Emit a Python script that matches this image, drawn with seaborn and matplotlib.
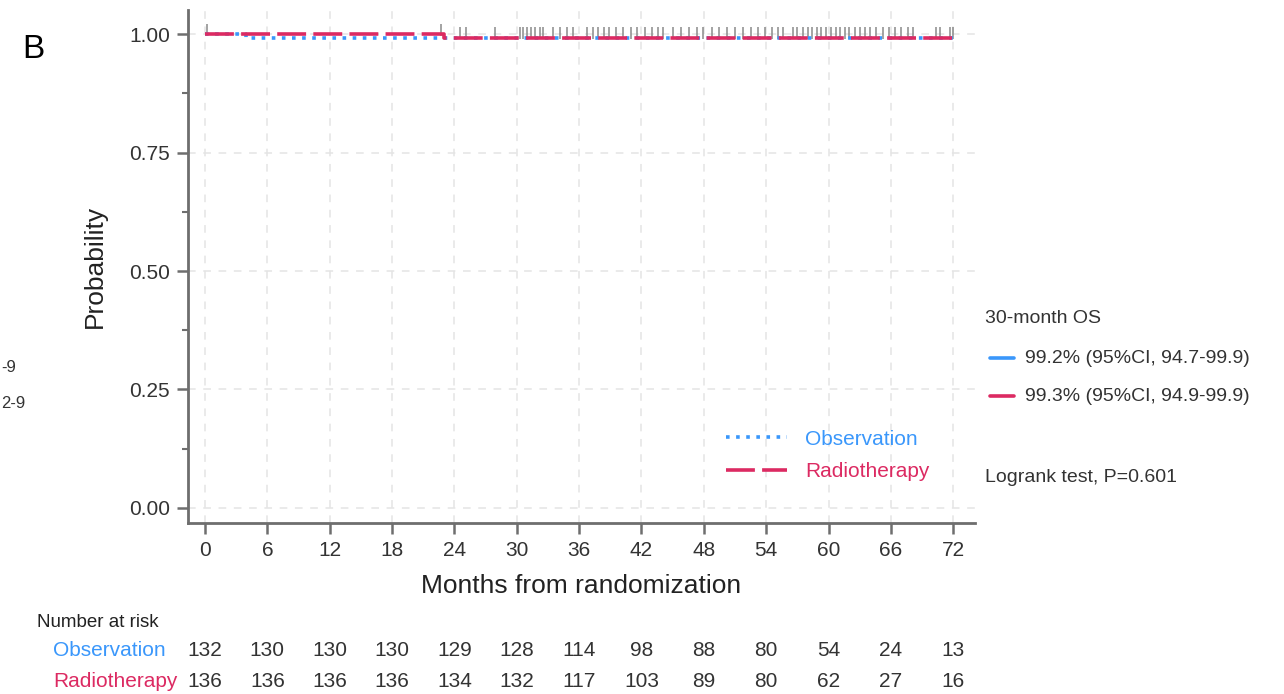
import pandas as pd
import matplotlib.pyplot as plt
import seaborn as sns
import numpy as np
from matplotlib.lines import Line2D
from matplotlib.ticker import MultipleLocator

sns.set_theme(style='white')
plt.rcParams['font.family'] = ['Liberation Sans', 'DejaVu Sans']

# Kaplan-Meier step data (months, survival probability)
obs_time = [0, 3.9, 72]
obs_surv = [1.0, 0.9924, 0.9924]
rt_time = [0, 23.0, 72]
rt_surv = [1.0, 0.9926, 0.9926]

# censoring times
obs_cens = [24.5, 27.9, 30.6, 31.4, 32.2, 33.5, 34.8, 36.8, 37.8, 38.9, 40.2,
            41.6, 43.0, 44.1, 45.8, 47.3, 48.8, 50.2, 51.8, 53.2, 54.6, 55.6,
            57.0, 58.0, 58.9, 59.8, 60.7, 61.6, 62.5, 63.5, 64.6, 65.8, 67.0,
            68.1, 70.7, 72.0]
rt_cens = [0.2, 22.7, 25.1, 30.3, 31.0, 31.8, 32.5, 34.2, 35.4, 37.3, 38.4,
           39.5, 41.0, 42.3, 43.6, 45.0, 46.6, 47.9, 49.5, 51.0, 52.5, 53.9,
           55.1, 56.6, 57.5, 58.4, 59.3, 60.2, 61.1, 62.0, 63.0, 64.0, 65.2,
           66.4, 67.6, 70.3, 71.7]

risk_times = [0, 6, 12, 18, 24, 30, 36, 42, 48, 54, 60, 66, 72]
obs_risk = [132, 130, 130, 130, 129, 128, 114, 98, 88, 80, 54, 24, 13]
rt_risk = [136, 136, 136, 136, 134, 132, 117, 103, 89, 80, 62, 27, 16]

groups = ['Observation', 'Radiotherapy']
colors = {'Observation': '#3a97fb', 'Radiotherapy': '#dc2a62'}
os_labels = ['99.2% (95%CI, 94.7-99.9)', '99.3% (95%CI, 94.9-99.9)']

km = pd.concat([
    pd.DataFrame({'time': obs_time, 'surv': obs_surv, 'group': 'Observation'}),
    pd.DataFrame({'time': rt_time, 'surv': rt_surv, 'group': 'Radiotherapy'}),
], ignore_index=True)


def surv_at(times, survs, t):
    idx = np.searchsorted(times, t, side='right') - 1
    return np.array(survs)[idx]


cens = pd.concat([
    pd.DataFrame({'time': obs_cens, 'surv': surv_at(obs_time, obs_surv, obs_cens)}),
    pd.DataFrame({'time': rt_cens, 'surv': surv_at(rt_time, rt_surv, rt_cens)}),
], ignore_index=True)
cens['surv'] = cens['surv'] + 0.01

fig = plt.figure(figsize=(12.84, 6.94), dpi=100)
ax = fig.add_axes([0.1464, 0.2464, 0.613, 0.739])

sns.lineplot(data=km, x='time', y='surv', hue='group', style='group',
             palette=colors, dashes={'Observation': (1, 1.8), 'Radiotherapy': (8, 2)},
             drawstyle='steps-post', linewidth=2.6, ax=ax, legend=False)
sns.scatterplot(data=cens, x='time', y='surv', marker='|', s=80, color='#8a8a8a',
                linewidth=1.1, ax=ax, legend=False, zorder=1)

ax.set_xlim(-1.64, 74.1)
ax.set_ylim(-0.032, 1.051)
ax.set_xticks(risk_times)
ax.set_yticks([0, 0.25, 0.5, 0.75, 1.0])
ax.set_yticklabels(['0.00', '0.25', '0.50', '0.75', '1.00'])
ax.yaxis.set_minor_locator(MultipleLocator(0.125))
ax.grid(True, which='major', color='#e4e4e4', linestyle=(0, (5, 5)), linewidth=1.1)
ax.set_axisbelow(True)

for s in ['top', 'right']:
    ax.spines[s].set_visible(False)
for s in ['left', 'bottom']:
    ax.spines[s].set_color('#6e6e6e')
    ax.spines[s].set_linewidth(2)
ax.tick_params(axis='both', which='major', direction='out', length=8, width=1.8,
               color='#6e6e6e', labelsize=15, labelcolor='#333333', pad=5)
ax.tick_params(axis='y', which='minor', direction='out', length=4, width=1.5,
               color='#6e6e6e', left=True)
ax.tick_params(axis='x', which='major', bottom=True)
ax.tick_params(axis='y', which='major', left=True)

ax.set_xlabel('Months from randomization', fontsize=19, color='#222222', labelpad=10)
ax.set_ylabel('Probability', fontsize=19, color='#222222', labelpad=16)

# legend inside the plot
handles = [Line2D([], [], color=colors['Observation'], lw=2.6, linestyle=(0, (1, 1.8))),
           Line2D([], [], color=colors['Radiotherapy'], lw=2.6, linestyle=(0, (8, 2)))]
leg = ax.legend(handles, groups, loc='lower left', bbox_to_anchor=(0.66, 0.045),
                frameon=False, fontsize=15, handlelength=2.9, handletextpad=0.9,
                labelspacing=0.65)
for txt, g in zip(leg.get_texts(), groups):
    txt.set_color(colors[g])

# panel letter and remnants from the neighbouring panel
fig.text(0.017, 0.928, 'B', fontsize=24, va='center', ha='left', color='black')
fig.text(0.001, 0.471, '-9', fontsize=12, va='center', ha='left', color='#333333')
fig.text(0.001, 0.418, '2-9', fontsize=12, va='center', ha='left', color='#333333')

# 30-month OS annotation
fig.text(0.767, 0.541, '30-month OS', fontsize=14, va='center', ha='left', color='#333333')
for yy, g, lab in zip([0.484, 0.429], groups, os_labels):
    fig.add_artist(Line2D([0.771, 0.790], [yy, yy], color=colors[g], lw=2.6,
                          transform=fig.transFigure))
    fig.text(0.798, yy, lab, fontsize=14, va='center', ha='left', color='#333333')
fig.text(0.767, 0.312, 'Logrank test, P=0.601', fontsize=14, va='center', ha='left',
         color='#333333')

# number at risk table
fig.text(0.029, 0.103, 'Number at risk', fontsize=13.5, va='center', ha='left',
         color='#222222')
for yy, g, vals in zip([0.062, 0.018], groups, [obs_risk, rt_risk]):
    fig.text(0.0413, yy, g, fontsize=15, va='center', ha='left', color=colors[g])
    for t, v in zip(risk_times, vals):
        xf = fig.transFigure.inverted().transform(ax.transData.transform((t, 0)))[0]
        fig.text(xf, yy, str(v), fontsize=15, va='center', ha='center', color='#333333')

plt.savefig('out.png', dpi=100)
